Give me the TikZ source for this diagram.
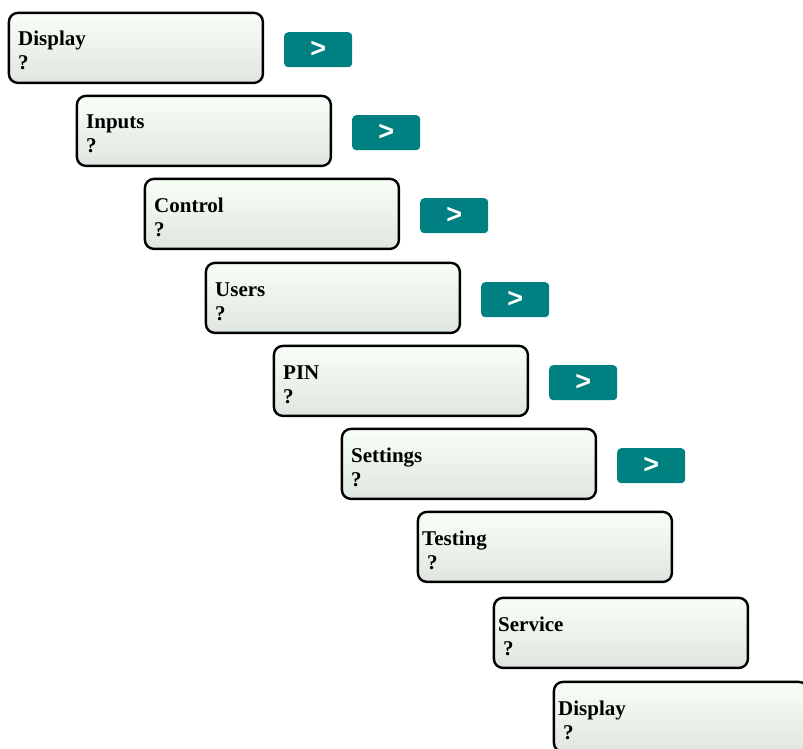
\documentclass[tikz,border=0pt]{standalone}
\usepackage{fontspec}
\setmainfont{Liberation Serif}
\newfontfamily\btnfont{Liberation Sans}
\definecolor{boxtop}{HTML}{F7FFF7}
\definecolor{boxbot}{HTML}{DFE6DF}
\definecolor{teal}{HTML}{008080}
\begin{document}
\begin{tikzpicture}[x=1pt,y=-1pt,
  stepbox/.style={draw=black, line width=2.4pt, rounded corners=9pt,
    top color=boxtop, bottom color=boxbot, minimum width=254pt,
    minimum height=70pt, anchor=north west, inner sep=0pt},
  lbl/.style={anchor=base west, inner sep=0pt, font=\fontsize{21}{24}\selectfont\bfseries},
  btn/.style={fill=teal, rounded corners=4pt, minimum width=68pt, minimum height=35pt,
    anchor=north west, inner sep=0pt, text=white,
    font=\btnfont\fontsize{27}{30}\selectfont\bfseries}]
\useasboundingbox (0,0) rectangle (803,749);
\clip (0,0) rectangle (803,749);
% boxes
\node[stepbox] (b1) at (7.7,11.7) {};
\node[stepbox] (b2) at (75.7,94.7) {};
\node[stepbox] (b3) at (143.7,177.7) {};
\node[stepbox] (b4) at (204.7,261.7) {};
\node[stepbox] (b5) at (272.7,344.7) {};
\node[stepbox] (b6) at (340.7,427.7) {};
\node[stepbox] (b7) at (416.7,510.7) {};
\node[stepbox] (b8) at (492.7,596.7) {};
\node[stepbox] (b9) at (552.7,680.7) {};
% labels
\node[lbl] (t1) at (18,46) {Display};
\node[lbl] (q1) at (18,70) {?};
\node[lbl] (t2) at (86,129) {Inputs};
\node[lbl] (q2) at (86,153) {?};
\node[lbl] (t3) at (154,212) {Control};
\node[lbl] (q3) at (154,236) {?};
\node[lbl] (t4) at (215,296) {Users};
\node[lbl] (q4) at (215,320) {?};
\node[lbl] (t5) at (283,379) {PIN};
\node[lbl] (q5) at (283,403) {?};
\node[lbl] (t6) at (351,462) {Settings};
\node[lbl] (q6) at (351,486) {?};
\node[lbl] (t7) at (422,545) {Testing};
\node[lbl] (q7) at (427,569) {?};
\node[lbl] (t8) at (498,631) {Service};
\node[lbl] (q8) at (503,655) {?};
\node[lbl] (t9) at (558,715) {Display};
\node[lbl] (q9) at (563,739) {?};
% buttons
\node[btn] (n1) at (284,32) {>};
\node[btn] (n2) at (352,115) {>};
\node[btn] (n3) at (420,198) {>};
\node[btn] (n4) at (481,282) {>};
\node[btn] (n5) at (549,365) {>};
\node[btn] (n6) at (617,448) {>};
\end{tikzpicture}
\end{document}
